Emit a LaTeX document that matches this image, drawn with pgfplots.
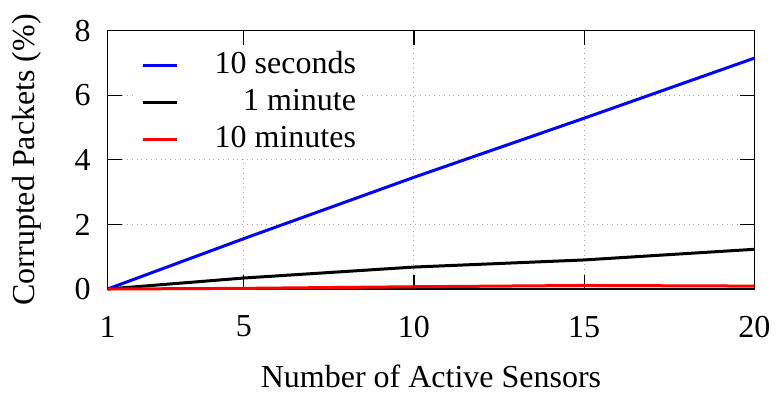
\documentclass[border=0pt]{standalone}
\usepackage{pgfplots}
\pgfplotsset{compat=1.18}
\usepackage{fontspec}
\setmainfont{Liberation Serif}
\begin{document}
\fontsize{16}{19}\selectfont
\begin{tikzpicture}
\useasboundingbox (0,0) rectangle (388.5pt,196.5pt);
\begin{axis}[
  at={(53.85pt,52pt)}, anchor=south west,
  scale only axis,
  width=323.3pt, height=129.15pt,
  xmin=1, xmax=20, ymin=0, ymax=8,
  xtick={1,5,10,15,20}, ytick={0,2,4,6,8},
  /pgf/number format/assume math mode=true,
  tick label style={font=\fontsize{16}{19}\selectfont, inner sep=0pt},
  label style={font=\fontsize{16}{19}\selectfont, inner sep=0pt},
  xlabel={Number of Active Sensors},
  ylabel={Corrupted Packets (\%)},
  xlabel style={at={(axis description cs:0.5,-0.382)}, anchor=base},
  ylabel style={at={(axis description cs:-0.1129,0.5)}, anchor=base},
  tick align=inside, tick pos=both,
  major tick length=7pt,
  axis line style={line width=0.7pt},
  every tick/.style={black, line width=0.6pt},
  grid=major,
  major grid style={gray!70, dotted, line width=0.5pt},
  xticklabel style={anchor=north, yshift=-13.25pt},
  yticklabel style={anchor=east, xshift=-8.35pt},
  legend style={draw=none, fill=white, inner sep=2pt,
    at={(axis description cs:0,1)}, anchor=north west, xshift=14.5pt, yshift=-7.4pt,
    font=\fontsize{16}{19}\selectfont, row sep=2.35pt,
    nodes={inner sep=0pt, text height=12pt, text depth=4pt},
    /tikz/every odd column/.append style={column sep=18pt}},
  legend cell align=right,
  legend image code/.code={\draw[#1] (0pt,0pt) -- (17.3pt,0pt);},
  clip=false,
]
\addplot[blue, line width=1.5pt] coordinates {(1,0) (5,1.56) (10,3.46) (15,5.29) (20,7.15)};
\addlegendentry{10 seconds}
\addplot[black, line width=1.5pt] coordinates {(1,0) (5,0.34) (10,0.68) (15,0.9) (20,1.23)};
\addlegendentry{1 minute}
\addplot[red, line width=1.5pt] coordinates {(1,0) (5,0.02) (10,0.07) (15,0.11) (20,0.09)};
\addlegendentry{10 minutes}
\end{axis}
\end{tikzpicture}
\end{document}
